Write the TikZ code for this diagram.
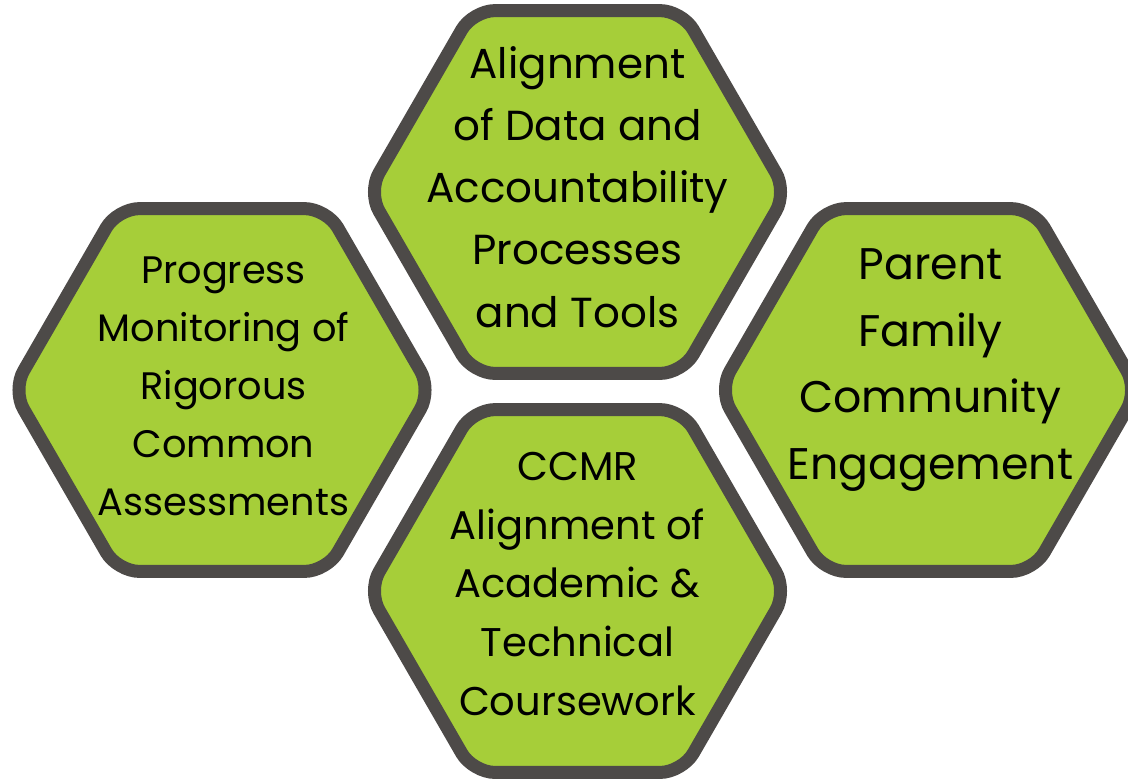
\documentclass[tikz,border=0pt]{standalone}
\usepackage{fontspec}
\setmainfont{Poppins}
\usetikzlibrary{shapes.geometric,positioning}

\definecolor{hexgreen}{HTML}{A6CE39}
\definecolor{hexgray}{HTML}{4D4A48}

\tikzset{
	hexcell/.style={regular polygon,regular polygon sides=6,
		minimum size=8.38cm,inner sep=0pt,draw=hexgray,fill=hexgreen,
		line width=0.26cm,rounded corners=0.44cm},
	hextext/.style={align=center,text=black,inner sep=0pt}
}

\begin{document}
\begin{tikzpicture}[x=0.02cm,y=-0.02cm]
	\useasboundingbox (0,0) rectangle (1128,779);
	\clip (0,0) rectangle (1128,779);
	% four cells
	\node[hexcell] (hex_top) at (577.5,192) {};
	\node[hexcell] (hex_left) at (222,390) {};
	\node[hexcell] (hex_right) at (928.5,390) {};
	\node[hexcell] (hex_bottom) at (577.5,591) {};
	% texts
	\node[hextext,font=\fontsize{23.9pt}{35.4pt}\selectfont] (txt_top) at (577.5,187)
		{Alignment\\of Data and\\Accountability\\Processes\\and Tools};
	\node[hextext,font=\fontsize{21.8pt}{33pt}\selectfont] (txt_left) at (223.5,386)
		{Progress\\Monitoring of\\Rigorous\\Common\\Assessments};
	\node[hextext,font=\fontsize{25.2pt}{38pt}\selectfont] (txt_right) at (930.5,370)
		{Parent\\Family\\Community\\Engagement};
	\node[hextext,font=\fontsize{22.8pt}{33.5pt}\selectfont] (txt_bottom) at (577.5,584)
		{CCMR\\Alignment of\\Academic \&\\Technical\\Coursework};
\end{tikzpicture}
\end{document}
